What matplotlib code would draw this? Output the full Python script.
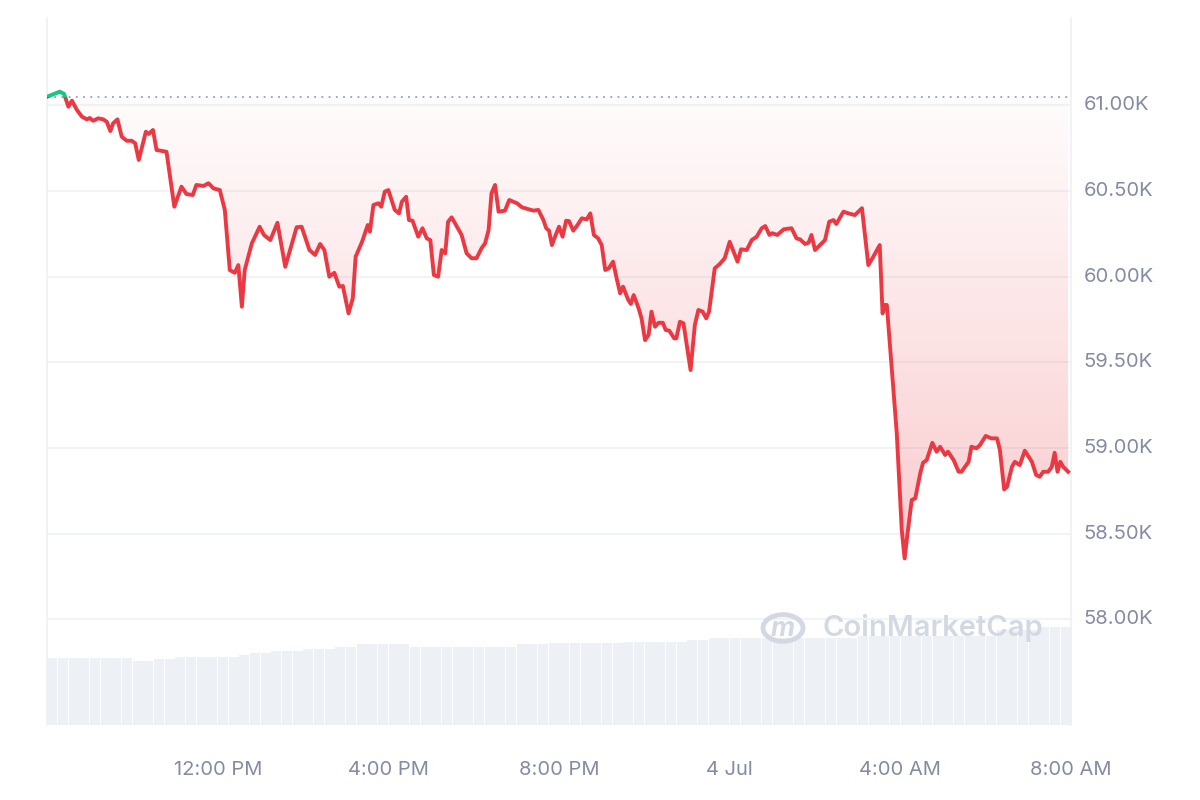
import numpy as np
import matplotlib
matplotlib.use("Agg")
import matplotlib.pyplot as plt
from matplotlib.patches import Rectangle, Circle
from matplotlib.colors import LinearSegmentedColormap

plt.rcParams['font.family'] = ['Inter', 'DejaVu Sans']

# minutes since 8:00 AM (3 Jul)
minutes = [0, 18, 24, 30, 35, 42, 49, 56, 60, 65, 72, 79, 84, 89, 93, 99, 105, 112, 119, 124,
           129, 139, 143, 149, 154, 168, 179, 189, 196, 205, 210, 220, 227, 234, 243, 250, 257, 264, 269, 274,
           278, 288, 299, 305, 314, 324, 335, 351, 358, 369, 377, 384, 390, 397, 404, 411, 416, 424, 430, 434,
           443, 451, 454, 459, 466, 470, 475, 480, 489, 495, 499, 505, 509, 514, 522, 528, 534, 539, 544, 550,
           555, 560, 564, 569, 583, 590, 597, 604, 611, 616, 621, 625, 630, 635, 644, 650, 661, 668, 677, 684,
           691, 698, 702, 706, 710, 714, 720, 725, 730, 734, 740, 746, 752, 759, 764, 769, 775, 780, 785, 790,
           796, 801, 806, 810, 817, 821, 825, 832, 836, 841, 846, 850, 855, 860, 866, 870, 875, 882, 885, 890,
           895, 900, 905, 911, 916, 922, 927, 931, 939, 946, 953, 960, 971, 976, 984, 991, 998, 1005, 1010, 1016,
           1020, 1027, 1036, 1047, 1054, 1059, 1066, 1071, 1075, 1080, 1087, 1094, 1100, 1106, 1110, 1120, 1127, 1136, 1146, 1155,
           1162, 1171, 1175, 1178, 1181, 1195, 1202, 1206, 1209, 1216, 1221, 1228, 1232, 1237, 1245, 1251, 1256, 1263, 1267, 1275,
           1282, 1286, 1296, 1300, 1307, 1312, 1320, 1328, 1336, 1340, 1346, 1350, 1357, 1361, 1368, 1375, 1385, 1391, 1396, 1401,
           1408, 1413, 1417, 1421, 1425, 1429, 1436]
prices = [61051, 61081, 61067, 60993, 61028, 60974, 60935, 60919, 60927, 60911, 60925, 60919, 60905, 60851, 60896, 60919, 60818, 60794, 60794, 60779,
          60682, 60847, 60834, 60857, 60740, 60730, 60409, 60526, 60483, 60477, 60536, 60530, 60546, 60516, 60506, 60390, 60039, 60023, 60068, 59825,
          60039, 60195, 60292, 60244, 60214, 60315, 60058, 60289, 60292, 60156, 60127, 60191, 60156, 60000, 60023, 59942, 59946, 59786, 59874, 60117,
          60204, 60302, 60263, 60419, 60429, 60409, 60497, 60506, 60390, 60370, 60438, 60467, 60331, 60327, 60234, 60283, 60224, 60214, 60010, 60000,
          60156, 60137, 60321, 60347, 60244, 60137, 60108, 60108, 60166, 60195, 60273, 60487, 60536, 60380, 60386, 60448, 60429, 60405, 60394, 60386,
          60390, 60331, 60283, 60269, 60185, 60230, 60292, 60234, 60327, 60325, 60269, 60302, 60341, 60335, 60370, 60244, 60224, 60185, 60039, 60049,
          60088, 59991, 59903, 59942, 59868, 59841, 59893, 59815, 59757, 59630, 59660, 59796, 59708, 59731, 59731, 59689, 59685, 59640, 59640, 59737,
          59728, 59591, 59455, 59718, 59806, 59796, 59757, 59796, 60049, 60074, 60108, 60204, 60088, 60160, 60156, 60214, 60234, 60283, 60296, 60244,
          60254, 60244, 60277, 60283, 60224, 60218, 60191, 60199, 60244, 60156, 60185, 60214, 60321, 60331, 60308, 60380, 60370, 60360, 60400, 60068,
          60117, 60185, 59786, 59835, 59835, 59085, 58520, 58355, 58462, 58696, 58706, 58852, 58914, 58929, 59030, 58978, 59007, 58959, 58978, 58929,
          58861, 58861, 58919, 59007, 58998, 59017, 59070, 59056, 59056, 58988, 58758, 58773, 58890, 58919, 58900, 58984, 58919, 58842, 58832, 58861,
          58861, 58890, 58972, 58861, 58919, 58890, 58861]
open_price = 61051

# 24h volume (billion USD), one bar per 15 minutes
volume = [26.7, 26.7, 26.7, 26.7, 26.7, 26.7, 26.7, 26.7, 25.7, 25.7,
          26.4, 26.4, 27.3, 27.3, 27.3, 27.3, 27.3, 27.3, 28.0, 28.9,
          28.9, 29.6, 29.6, 29.6, 30.4, 30.4, 30.4, 31.3, 31.3, 32.3,
          32.3, 32.3, 32.3, 32.3, 31.3, 31.3, 31.3, 31.3, 31.3, 31.3,
          31.3, 31.3, 31.3, 31.3, 32.3, 32.3, 32.3, 32.7, 32.7, 32.7,
          32.7, 32.7, 32.7, 32.7, 33.3, 33.3, 33.3, 33.3, 33.3, 33.3,
          34.0, 34.0, 34.7, 34.7, 34.7, 34.7, 34.7, 35.0, 35.0, 35.0,
          35.0, 35.0, 35.0, 35.0, 35.0, 35.0, 35.6, 35.6, 35.6, 35.6,
          35.6, 35.6, 35.6, 35.6, 35.6, 35.6, 35.6, 35.6, 35.6, 38.0,
          38.0, 38.0, 38.0, 39.2, 39.2, 39.2]

xtick_pos = [240, 480, 720, 960, 1200, 1440]
xtick_labels = ['12:00 PM', '4:00 PM', '8:00 PM', '4 Jul', '4:00 AM', '8:00 AM']
ytick_vals = [58000, 58500, 59000, 59500, 60000, 60500, 61000]
ytick_labels = ['58.00K', '58.50K', '59.00K', '59.50K', '60.00K', '60.50K', '61.00K']

RED = '#ea3943'
GREEN = '#16c784'
LABEL = '#858ca2'
GRID = '#eff2f5'

t = np.array(minutes, dtype=float)
p = np.array(prices, dtype=float)
ymin, ymax = 57382, 61511

fig = plt.figure(figsize=(12, 8), dpi=100)
ax = fig.add_axes([0.0392, 0.09375, 0.8533, 0.88375])
ax.set_xlim(0, 1440)
ax.set_ylim(ymin, ymax)

# volume bars on twin axis
axv = ax.twinx()
axv.set_ylim(0, 282.8)
vt = np.arange(len(volume)) * 15 + 7.5
axv.bar(vt, volume, width=14.4, color='#edf0f4', edgecolor='none', zorder=1)
axv.set_yticks([])
for s in axv.spines.values():
    s.set_visible(False)
axv.set_zorder(0)
ax.set_zorder(1)
ax.patch.set_visible(False)

# grid
for v in ytick_vals:
    ax.axhline(v, color=GRID, lw=1.2, zorder=0)

# gradient fill between baseline and line
poly = ax.fill_between(t, p, open_price, color='none', lw=0)
grad = np.linspace(0, 1, 256).reshape(-1, 1)
cmap = LinearSegmentedColormap.from_list('g', [(0.918, 0.224, 0.263, 0.26), (0.918, 0.224, 0.263, 0.015)])
im = ax.imshow(grad, extent=[0, 1440, 58355, open_price], origin='lower', cmap=cmap,
               aspect='auto', zorder=1, interpolation='bicubic')
path = poly.get_paths()[0]
im.set_clip_path(path, transform=ax.transData)
ax.set_xlim(0, 1440)
ax.set_ylim(ymin, ymax)

# baseline dotted
ax.axhline(open_price, color='#9aa1ad', lw=1.3, ls=(0, (1, 3)), zorder=2)

# price line, red below open, green above
l_red, = ax.plot(t, p, color=RED, lw=2.8, zorder=3, solid_joinstyle='round')
l_red.set_clip_path(Rectangle((0, ymin), 1440, open_price - ymin, transform=ax.transData))
l_green, = ax.plot(t, p, color=GREEN, lw=2.8, zorder=3, solid_joinstyle='round')
l_green.set_clip_path(Rectangle((0, open_price), 1440, ymax - open_price, transform=ax.transData))

# axes styling
ax.yaxis.tick_right()
ax.set_yticks(ytick_vals)
ax.set_yticklabels(ytick_labels)
ax.set_xticks(xtick_pos)
ax.set_xticklabels(xtick_labels)
ax.tick_params(axis='both', length=0, labelsize=14.5, labelcolor=LABEL)
ax.tick_params(axis='x', pad=26)
ax.tick_params(axis='y', pad=9)
for lbl in ax.get_yticklabels():
    lbl.set_verticalalignment('center')
for side in ['top', 'bottom']:
    ax.spines[side].set_visible(False)
for side in ['left', 'right']:
    ax.spines[side].set_color('#eef0f3')
    ax.spines[side].set_linewidth(1.2)

# watermark
wm = '#d3d9e3'
fig.patches.append(Circle((783 / 1200, 1 - 628 / 800), 20 / 1200, transform=fig.transFigure,
                          fill=False, ec=wm, lw=3.5, zorder=5))
fig.text(783 / 1200, 1 - 629 / 800, 'm', ha='center', va='center', fontsize=19, color=wm,
         fontweight='bold', fontstyle='italic', zorder=6)
fig.text(822 / 1200, 1 - 628 / 800, 'CoinMarketCap', ha='left', va='center', fontsize=21,
         color=wm, fontweight='semibold', zorder=6)

fig.savefig('out.png', dpi=100)
